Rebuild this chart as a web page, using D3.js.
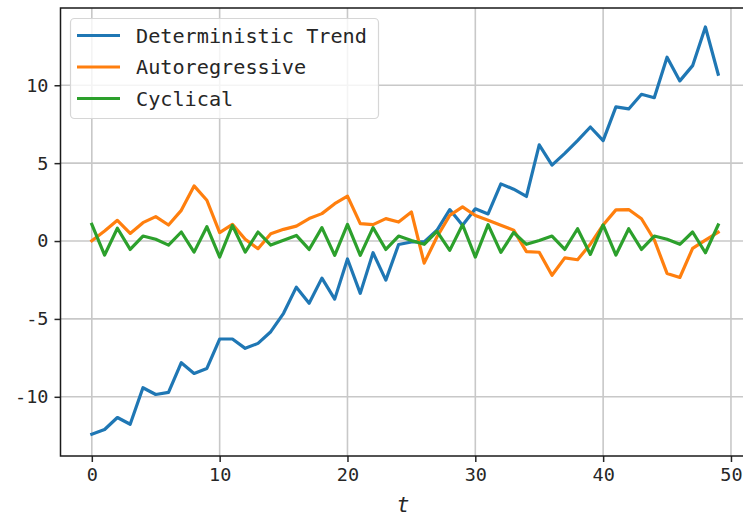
<!DOCTYPE html>
<html>
<head>
<meta charset="utf-8">
<script src="https://cdn.jsdelivr.net/npm/d3@7"></script>
<style>
  body { margin: 0; background: #fff; }
  svg { display: block; overflow: hidden; }
  text { font-family: "DejaVu Sans Mono", monospace; fill: #262626; }
</style>
</head>
<body>
<div id="chart-area"><svg></svg></div>
<script>
const chartSize = { width: 743, height: 518 };
const plot = { left: 60.5, top: 8, right: 749.5, bottom: 456 };

const seriesNames = ["Deterministic Trend", "Autoregressive", "Cyclical"];
const seriesColors = ["#1f77b4", "#ff7f0e", "#2ca02c"];

const trend = [
  -12.40, -12.10, -11.33, -11.76, -9.42, -9.85, -9.72, -7.81, -8.50, -8.18,
  -6.29, -6.29, -6.89, -6.57, -5.82, -4.64, -2.96, -3.99, -2.38, -3.73,
  -1.15, -3.36, -0.75, -2.51, -0.22, -0.06, -0.06, 0.69, 2.02, 1.01,
  2.07, 1.74, 3.67, 3.33, 2.86, 6.17, 4.87, 5.63, 6.45, 7.32,
  6.45, 8.61, 8.48, 9.42, 9.20, 11.80, 10.28, 11.26, 13.74, 10.71
];
const autoregressive = [
  0.02, 0.64, 1.33, 0.49, 1.18, 1.57, 1.03, 1.97, 3.54, 2.62,
  0.54, 1.07, 0.11, -0.49, 0.47, 0.75, 0.96, 1.44, 1.76, 2.40,
  2.88, 1.12, 1.05, 1.44, 1.22, 1.87, -1.42, 0.26, 1.65, 2.19,
  1.64, 1.33, 1.02, 0.70, -0.68, -0.72, -2.20, -1.08, -1.20, -0.20,
  1.03, 2.00, 2.02, 1.43, 0.08, -2.08, -2.34, -0.47, 0.06, 0.56
];
const cyclical = [
  1.07, -0.90, 0.82, -0.54, 0.32, 0.11, -0.26, 0.58, -0.71, 0.92,
  -1.03, 1.00, -0.71, 0.58, -0.26, 0.05, 0.36, -0.54, 0.86, -0.92,
  1.07, -0.92, 0.86, -0.54, 0.32, 0.04, -0.21, 0.62, -0.60, 1.05,
  -1.03, 1.05, -0.73, 0.55, -0.21, 0.04, 0.32, -0.54, 0.79, -0.86,
  1.03, -0.90, 0.79, -0.54, 0.32, 0.11, -0.21, 0.58, -0.75, 1.03
];

const xTicks = [0, 10, 20, 30, 40, 50];
const yTicks = [-10, -5, 0, 5, 10];

const fmtTick = d => (d < 0 ? "-" : "") + Math.abs(d);

const main = () => {
  const svg = d3.select("#chart-area svg")
    .attr("width", chartSize.width)
    .attr("height", chartSize.height);

  const x = d3.scaleLinear().domain([-2.45, 51.45]).range([plot.left, plot.right]);
  const y = d3.scaleLinear().domain([-13.8, 14.96]).range([plot.bottom, plot.top]);

  // grid
  const grid = svg.append("g").attr("class", "grid");
  grid.selectAll(".gx").data(xTicks).join("line")
    .attr("x1", d => x(d)).attr("x2", d => x(d))
    .attr("y1", plot.top).attr("y2", plot.bottom)
    .attr("stroke", "#c8c8c8").attr("stroke-width", 1.6);
  grid.selectAll(".gy").data(yTicks).join("line")
    .attr("y1", d => y(d)).attr("y2", d => y(d))
    .attr("x1", plot.left).attr("x2", plot.right)
    .attr("stroke", "#c8c8c8").attr("stroke-width", 1.6);

  // lines
  const line = d3.line().x((d, i) => x(i)).y(d => y(d));
  [trend, autoregressive, cyclical].forEach((s, k) => {
    svg.append("path")
      .attr("d", line(s))
      .attr("fill", "none")
      .attr("stroke", seriesColors[k])
      .attr("stroke-width", 3.2)
      .attr("stroke-linejoin", "round")
      .attr("stroke-linecap", "square");
  });

  // axes
  const xAxis = d3.axisBottom(x).tickValues(xTicks).tickSize(6).tickPadding(6).tickFormat(fmtTick);
  const yAxis = d3.axisLeft(y).tickValues(yTicks).tickSize(6).tickPadding(6).tickFormat(fmtTick);

  const gx = svg.append("g").attr("transform", `translate(0, ${plot.bottom})`).call(xAxis);
  const gy = svg.append("g").attr("transform", `translate(${plot.left}, 0)`).call(yAxis);
  [gx, gy].forEach(g => {
    g.select(".domain").remove();
    g.selectAll(".tick line").attr("stroke", "#262626").attr("stroke-width", 1.5);
    g.selectAll(".tick text")
      .attr("font-family", "DejaVu Sans Mono")
      .attr("font-size", 18.5)
      .attr("fill", "#333");
  });

  // spines
  svg.append("rect")
    .attr("x", plot.left).attr("y", plot.top)
    .attr("width", plot.right - plot.left).attr("height", plot.bottom - plot.top)
    .attr("fill", "none").attr("stroke", "#1a1a1a").attr("stroke-width", 1.5);

  // x label
  svg.append("text")
    .attr("x", 403).attr("y", 512)
    .attr("text-anchor", "middle")
    .attr("font-family", "DejaVu Sans")
    .attr("font-style", "italic")
    .attr("font-size", 21)
    .text("t");

  // legend
  const legend = svg.append("g").attr("class", "legend");
  legend.append("rect")
    .attr("x", 70.5).attr("y", 18.5).attr("width", 308).attr("height", 100)
    .attr("rx", 4)
    .attr("fill", "#fff").attr("fill-opacity", 0.8)
    .attr("stroke", "#d6d6d6").attr("stroke-width", 1.2);
  seriesNames.forEach((name, i) => {
    const cy = 35.5 + i * 31.5;
    legend.append("line")
      .attr("x1", 77).attr("x2", 120).attr("y1", cy).attr("y2", cy)
      .attr("stroke", seriesColors[i]).attr("stroke-width", 3.2);
    legend.append("text")
      .attr("x", 136).attr("y", cy + 7)
      .attr("font-size", 20.2)
      .text(name);
  });
};

window.onload = main;
</script>
</body>
</html>
